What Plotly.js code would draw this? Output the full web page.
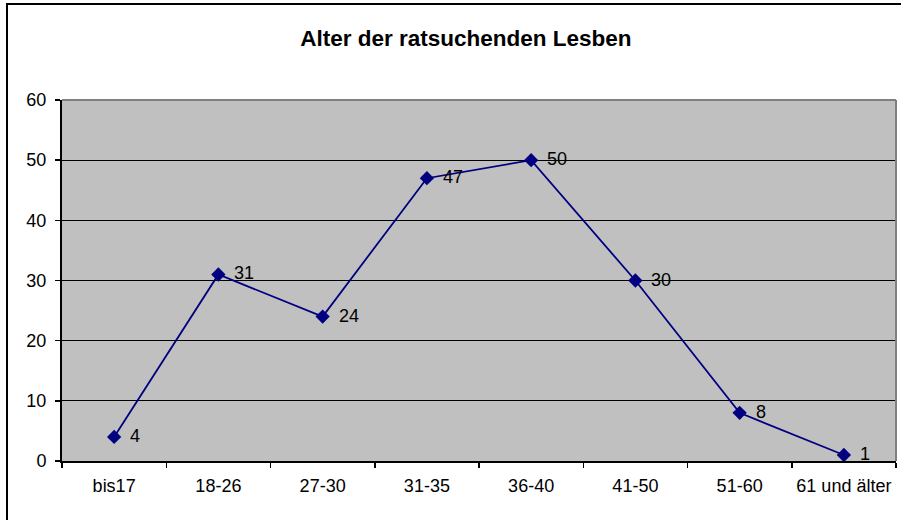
<!DOCTYPE html>
<html>
<head>
<meta charset="utf-8">
<script src="https://cdn.plot.ly/plotly-3.0.1.min.js"></script>
<style>
  html, body { margin: 0; padding: 0; background: #fff; }
  #chart { width: 901px; height: 520px; }
</style>
</head>
<body>
<div id="chart"></div>
<script>
const categories = ["bis17", "18-26", "27-30", "31-35", "36-40", "41-50", "51-60", "61 und älter"];
const values = [4, 31, 24, 47, 50, 30, 8, 1];
const yTicks = [0, 10, 20, 30, 40, 50, 60];
const chartTitle = "Alter der ratsuchenden Lesben";

const font = "Arial, 'Liberation Sans', sans-serif";

const trace = {
  x: categories,
  y: values,
  type: "scatter",
  mode: "lines+markers",
  line: { color: "#000080", width: 1.8 },
  marker: { symbol: "diamond", size: 11, color: "#000080" },
  cliponaxis: false,
  hoverinfo: "none"
};

const labelAnnotations = categories.map((c, i) => ({
  x: c, y: values[i], xref: "x", yref: "y",
  text: String(values[i]),
  showarrow: false,
  xanchor: "left", yanchor: "middle",
  xshift: 14, yshift: 1,
  font: { family: font, size: 18, color: "#000" }
}));

const plotH = 361, plotW = 834;
const layout = {
  width: 901,
  height: 520,
  margin: { l: 62, r: 5, t: 100, b: 59 },
  paper_bgcolor: "#fff",
  plot_bgcolor: "#C0C0C0",
  showlegend: false,
  title: {
    text: "<b>" + chartTitle + "</b>",
    font: { family: font, size: 22.5, color: "#000" },
    x: 0.517, xanchor: "center",
    y: 0.927, yanchor: "middle"
  },
  xaxis: {
    type: "category",
    range: [-0.5, categories.length - 0.5],
    showgrid: false,
    showline: true, linecolor: "#000", linewidth: 2,
    ticks: "outside", tickson: "boundaries", ticklen: 5, tickcolor: "#000", tickwidth: 1.5,
    tickfont: { family: font, size: 18, color: "#000" },
    tickangle: 0,
    ticklabelstandoff: 7,
    zeroline: false, fixedrange: true
  },
  yaxis: {
    range: [0, 60],
    tickvals: yTicks,
    ticktext: yTicks.map(String),
    showgrid: true, gridcolor: "#000", gridwidth: 1,
    showline: true, linecolor: "#000", linewidth: 2,
    ticks: "outside", ticklen: 5, tickcolor: "#000", tickwidth: 1.5,
    tickfont: { family: font, size: 18, color: "#000" },
    ticklabelstandoff: 5,
    zeroline: false, fixedrange: true
  },
  annotations: labelAnnotations,
  shapes: [
    { type: "line", xref: "paper", yref: "paper", x0: 0, x1: 1, y0: 1, y1: 1,
      line: { color: "#808080", width: 2 }, layer: "above" },
    { type: "line", xref: "paper", yref: "paper", x0: 1, x1: 1, y0: 0, y1: 1,
      line: { color: "#808080", width: 2 }, layer: "above" },
    { type: "rect", xref: "paper", yref: "paper",
      x0: (7 - 62) / plotW, x1: 1 + 20 / plotW,
      y0: -80 / plotH, y1: 1 + 96 / plotH,
      line: { color: "#000", width: 2 }, fillcolor: "rgba(0,0,0,0)", layer: "above" }
  ]
};

Plotly.newPlot("chart", [trace], layout, { displayModeBar: false, staticPlot: true });
</script>
</body>
</html>
